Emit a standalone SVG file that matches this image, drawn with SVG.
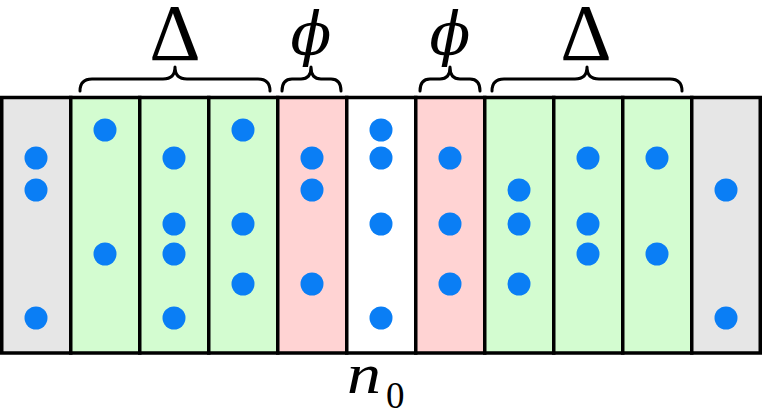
<svg xmlns="http://www.w3.org/2000/svg" width="762" height="415" viewBox="0 0 762 415">
<style>
.cell{stroke:#000;stroke-width:3.5}
.g{fill:#e6e6e6}.gr{fill:#d3fcd0}.p{fill:#ffd3d3}.w{fill:#fff}
.d{fill:#0a7ef5}
.br{fill:none;stroke:#000;stroke-width:3;stroke-linecap:round;stroke-linejoin:round}
.lbl{font-family:"Liberation Serif",serif;fill:#000}
.phi{font-family:"DejaVu Serif",serif;font-style:italic;fill:#000}
</style>
<defs><circle id="dot" r="11.5" class="d"/></defs>
<g id="col0"><rect class="cell g" x="1.75" y="97.5" width="69" height="255.5"/>
<use href="#dot" x="36" y="158"/><use href="#dot" x="36" y="190"/><use href="#dot" x="36" y="318"/></g>
<g id="col1"><rect class="cell gr" x="70.75" y="97.5" width="69" height="255.5"/>
<use href="#dot" x="105" y="130"/><use href="#dot" x="105" y="254"/></g>
<g id="col2"><rect class="cell gr" x="139.75" y="97.5" width="69" height="255.5"/>
<use href="#dot" x="174" y="158"/><use href="#dot" x="174" y="224"/><use href="#dot" x="174" y="254"/><use href="#dot" x="174" y="318"/></g>
<g id="col3"><rect class="cell gr" x="208.75" y="97.5" width="69" height="255.5"/>
<use href="#dot" x="243" y="130"/><use href="#dot" x="243" y="224"/><use href="#dot" x="243" y="284"/></g>
<g id="col4"><rect class="cell p" x="277.75" y="97.5" width="69" height="255.5"/>
<use href="#dot" x="312" y="158"/><use href="#dot" x="312" y="190"/><use href="#dot" x="312" y="284"/></g>
<g id="col5"><rect class="cell w" x="346.75" y="97.5" width="69" height="255.5"/>
<use href="#dot" x="381" y="130"/><use href="#dot" x="381" y="158"/><use href="#dot" x="381" y="224"/><use href="#dot" x="381" y="318"/></g>
<g id="col6"><rect class="cell p" x="415.75" y="97.5" width="69" height="255.5"/>
<use href="#dot" x="450" y="158"/><use href="#dot" x="450" y="224"/><use href="#dot" x="450" y="284"/></g>
<g id="col7"><rect class="cell gr" x="484.75" y="97.5" width="69" height="255.5"/>
<use href="#dot" x="519" y="190"/><use href="#dot" x="519" y="224"/><use href="#dot" x="519" y="284"/></g>
<g id="col8"><rect class="cell gr" x="553.75" y="97.5" width="69" height="255.5"/>
<use href="#dot" x="588" y="158"/><use href="#dot" x="588" y="224"/><use href="#dot" x="588" y="254"/></g>
<g id="col9"><rect class="cell gr" x="622.75" y="97.5" width="69" height="255.5"/>
<use href="#dot" x="657" y="158"/><use href="#dot" x="657" y="254"/></g>
<g id="col10"><rect class="cell g" x="691.75" y="97.5" width="68.5" height="255.5"/>
<use href="#dot" x="726" y="190"/><use href="#dot" x="726" y="318"/></g>
<g id="braces">
<path class="br" d="M80,91 Q80,79 92,79 L163,79 Q175,79 175,67 Q175,79 187,79 L258,79 Q270,79 270,91"/>
<path class="br" d="M282,91 Q282,79 292,79 L301,79 Q311,79 311,67 Q311,79 321,79 L331,79 Q341,79 341,91"/>
<path class="br" d="M420,91 Q420,79 430,79 L440,79 Q450,79 450,67 Q450,79 460,79 L470,79 Q480,79 480,91"/>
<path class="br" d="M492,91 Q492,79 504,79 L575,79 Q587,79 587,67 Q587,79 599,79 L670,79 Q682,79 682,91"/>
</g>
<g id="labels">
<text class="lbl" x="175" y="60" font-size="80" text-anchor="middle">Δ</text>
<text class="lbl" x="586" y="60" font-size="80" text-anchor="middle">Δ</text>
<text class="phi" x="311" y="55" font-size="60" text-anchor="middle">ϕ</text>
<text class="phi" x="450" y="55" font-size="60" text-anchor="middle">ϕ</text>
<text class="lbl" x="347" y="393" font-size="56" font-style="italic" textLength="34" lengthAdjust="spacingAndGlyphs">n</text>
<text class="lbl" x="386" y="408" font-size="37">0</text>
</g>
</svg>
